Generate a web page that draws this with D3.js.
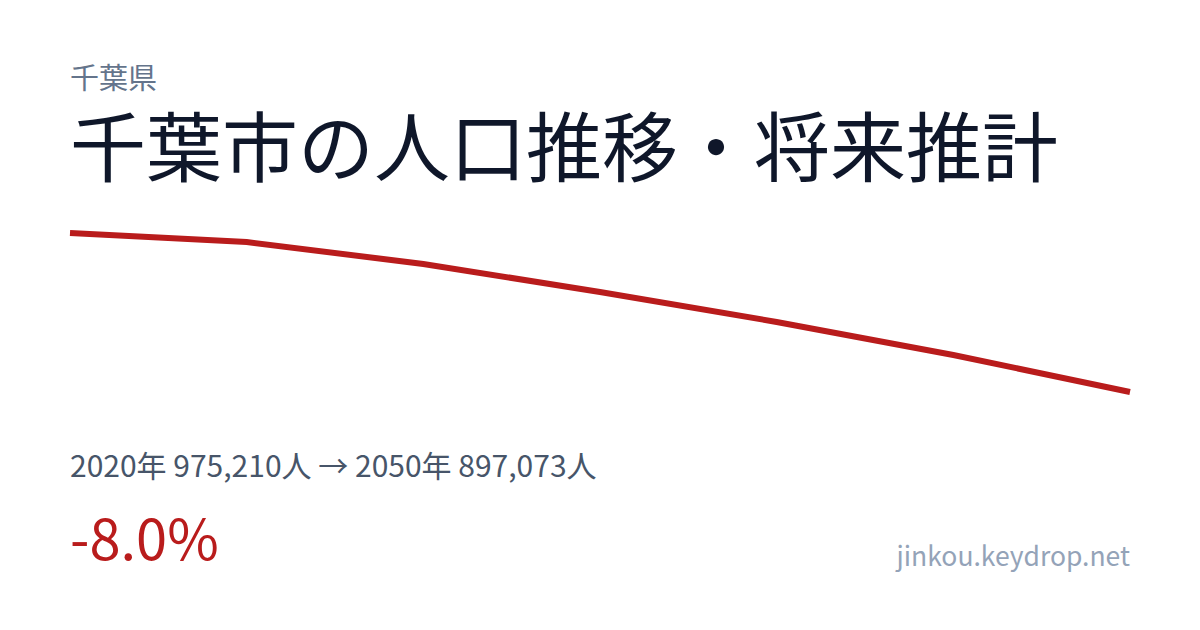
<!DOCTYPE html>
<html lang="ja">
  <head>
    <meta charset="UTF-8" />
    <title>千葉市の人口推移・将来推計</title>
    <script src="https://d3js.org/d3.v7.min.js" charset="utf-8"></script>
    <style>
      body { margin: 0; background: #fff; }
      text { font-family: "Noto Sans CJK JP", "Noto Sans", sans-serif; }
    </style>
  </head>
  <body>
    <svg class="chart"></svg>
    <script>
      // 人口データ（推計値は画像から読み取り）
      let years = [2020, 2025, 2030, 2035, 2040, 2045, 2050];
      let population = [975210, 970790, 959980, 946240, 931510, 915260, 897073];

      let prefName = "千葉県";
      let title = "千葉市の人口推移・将来推計";
      let site = "jinkou.keydrop.net";

      let width = 1200;
      let height = 630;

      let svg = d3
        .select(".chart")
        .attr("width", width)
        .attr("height", height);

      svg.append("rect")
        .attr("width", width)
        .attr("height", height)
        .attr("fill", "#ffffff");

      let x = d3.scaleLinear()
        .domain(d3.extent(years))
        .range([70, 1130]);

      let y = d3.scaleLinear()
        .domain(d3.extent(population))
        .range([392, 233]);

      let line = d3.line()
        .x((d, i) => x(years[i]))
        .y(d => y(d));

      svg.append("path")
        .datum(population)
        .attr("d", line)
        .attr("fill", "none")
        .attr("stroke", "#b91c1c")
        .attr("stroke-width", 6);

      svg.append("text")
        .attr("x", 70)
        .attr("y", 89)
        .attr("font-size", 29)
        .attr("fill", "#64748b")
        .text(prefName);

      svg.append("text")
        .attr("x", 70)
        .attr("y", 176)
        .attr("font-size", 76)
        .attr("fill", "#0f172a")
        .text(title);

      let first = population[0];
      let last = population[population.length - 1];
      let fmt = d3.format(",");

      svg.append("text")
        .attr("x", 70)
        .attr("y", 477)
        .attr("font-size", 30)
        .attr("fill", "#475569")
        .text(years[0] + "年 " + fmt(first) + "人 → " + years[years.length - 1] + "年 " + fmt(last) + "人");

      let change = (last - first) / first * 100;
      svg.append("text")
        .attr("x", 70)
        .attr("y", 560)
        .attr("font-size", 56)
        .attr("fill", "#b91c1c")
        .text((change > 0 ? "+" : "") + change.toFixed(1) + "%");

      svg.append("text")
        .attr("x", 1130)
        .attr("y", 566)
        .attr("text-anchor", "end")
        .attr("font-size", 26.5)
        .attr("fill", "#94a3b8")
        .text(site);
    </script>
  </body>
</html>
